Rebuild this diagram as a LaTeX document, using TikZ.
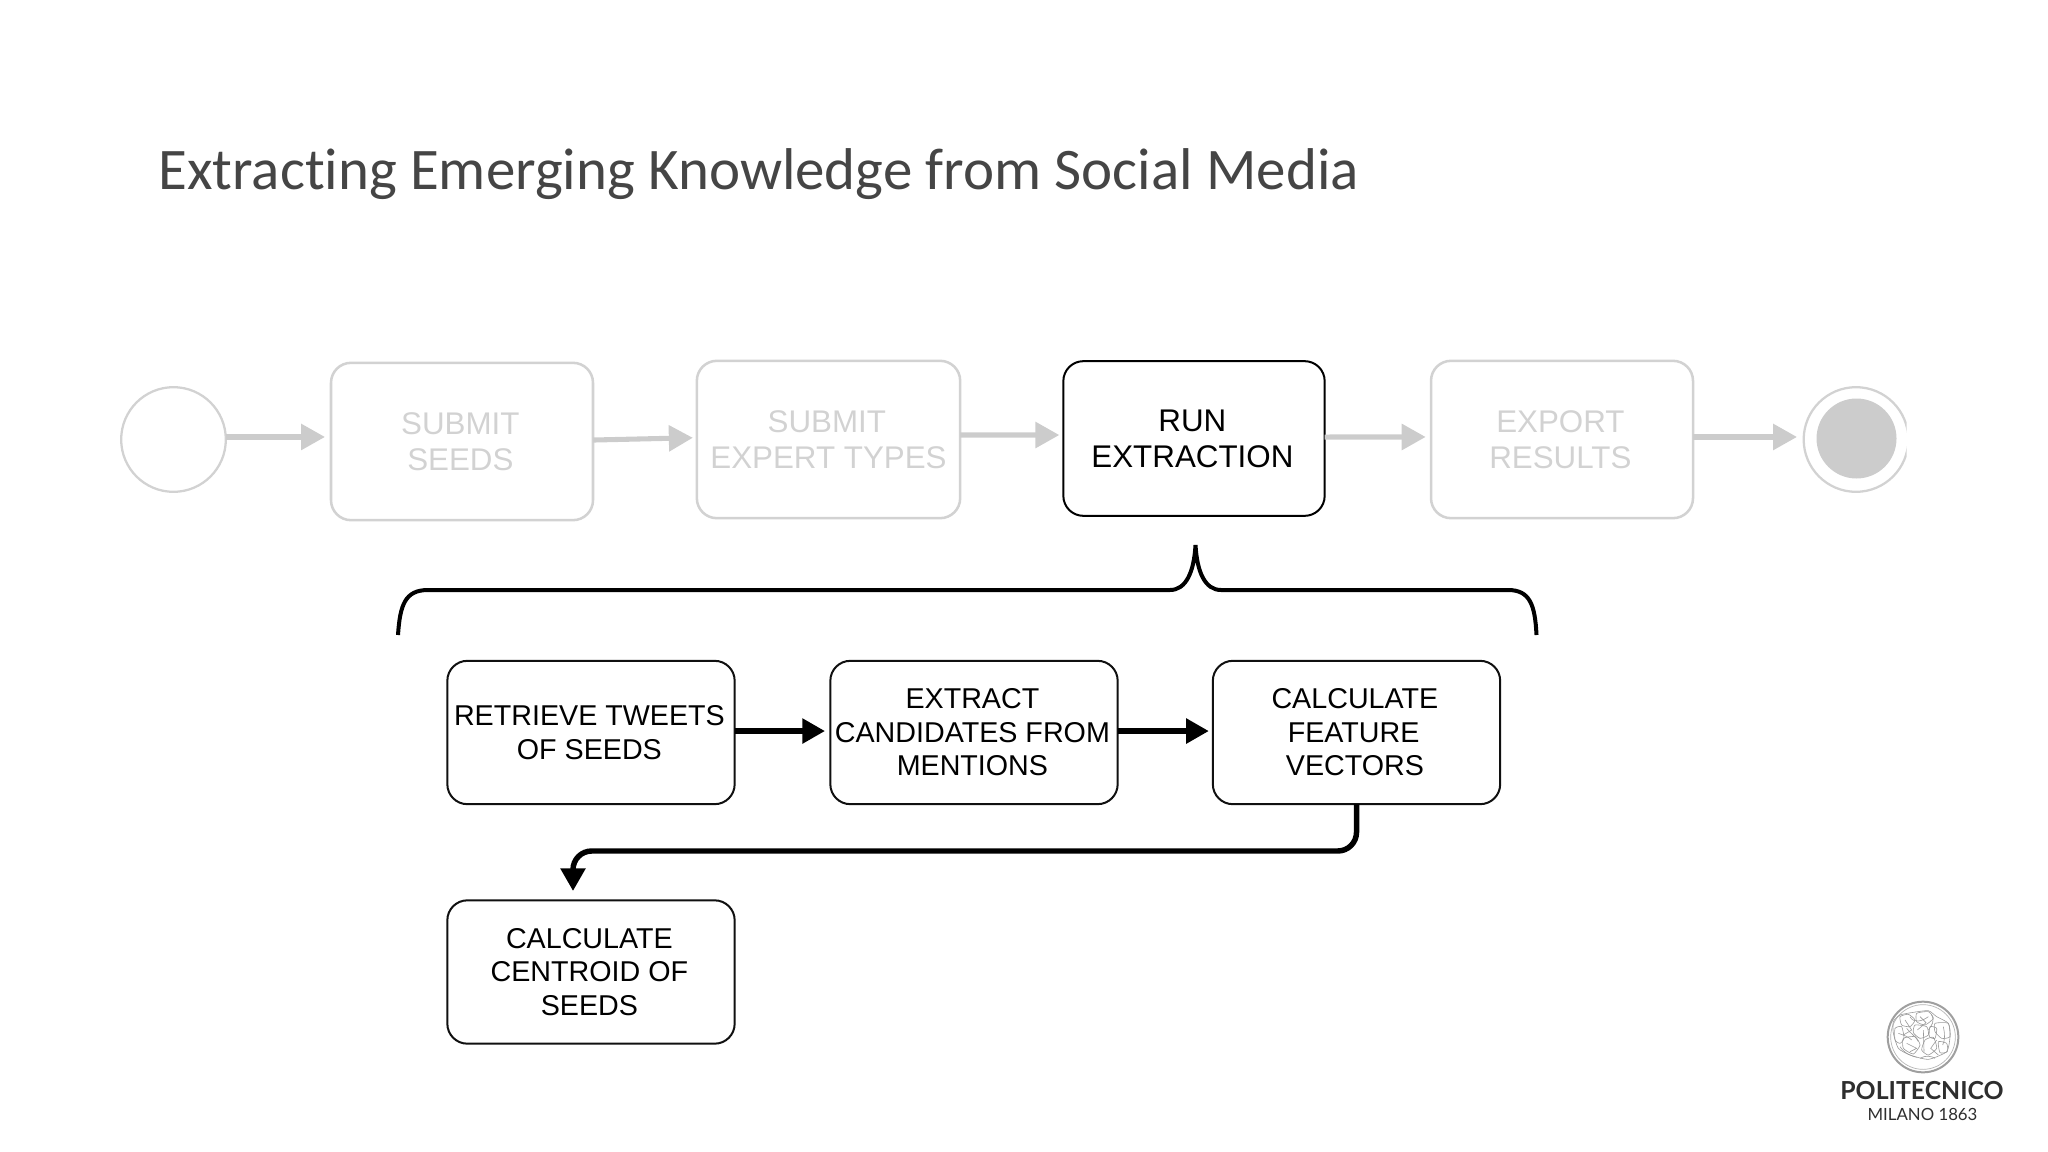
\documentclass[tikz,border=0pt]{standalone}
\usepackage{fontspec}
\setmainfont{Liberation Sans}
\newfontfamily\titlef[Ligatures=NoCommon]{Carlito}
\newfontfamily\logof{Lato}
\usetikzlibrary{arrows.meta,calc}
\definecolor{fade}{HTML}{D2D2D2}
\definecolor{fadearrow}{HTML}{CCCCCC}
\definecolor{titlec}{HTML}{454545}
\definecolor{logoc}{HTML}{2E2E2E}
\definecolor{inkc}{HTML}{101010}
\newcommand{\nudge}{\kern2.4pt}
\tikzset{
  box/.style={draw,rounded corners=15pt,outer sep=0pt,inner sep=0pt,align=center},
  top/.style={box,line width=1.9pt,font=\fontsize{23.5}{27}\selectfont},
  faded/.style={top,draw=fade,text=fade},
  active/.style={top,line width=1.5pt,draw=black,text=black},
  sub/.style={box,line width=1.5pt,draw=inkc,text=black,minimum width=215.5pt,minimum height=107.5pt,font=\fontsize{21.5}{25.1}\selectfont},
  flow/.style={line width=3.8pt,draw=fadearrow,-{Triangle[length=18pt,width=19pt]}},
  bflow/.style={line width=4.1pt,draw=black,-{Triangle[length=17pt,width=18pt]}},
  event/.style={circle,draw=fade,line width=1.7pt,minimum size=78.5pt,inner sep=0pt,outer sep=0pt},
  scrib/.style={draw=gray!80,line width=0.45pt}
}
\begin{document}
\begin{tikzpicture}[x=0.75pt,y=-0.75pt]
\useasboundingbox (0,0) rectangle (2048,1152);
\node[anchor=base west,inner sep=0pt,text=titlec,font=\titlef\fontsize{44.2}{50}\selectfont] (title) at (158,190) {Extracting Emerging Knowledge from Social Media};

\node[event] (start) at (173.5,439.5) {};
\node[faded,minimum width=196.5pt,minimum height=118pt] (b1) at (462,441.5) {SUBMIT\nudge\\SEEDS\nudge};
\node[faded,minimum width=197.5pt,minimum height=118pt] (b2) at (828.5,439.5) {SUBMIT\nudge\\EXPERT TYPES};
\node[active,minimum width=196pt,minimum height=116pt] (b3) at (1194,438.5) {RUN\nudge\\EXTRACTION\nudge};
\node[faded,minimum width=196.5pt,minimum height=118pt] (b4) at (1562,439.5) {EXPORT\nudge\\RESULTS\nudge};
\begin{scope}
\clip (1790,380) rectangle (1906.5,500);
\node[event] (stop) at (1856,439.5) {};
\end{scope}
\node[circle,fill=fadearrow,minimum size=60pt,inner sep=0pt] (stopin) at (1856.5,438.5) {};

\draw[flow] ([yshift=1.9pt]start.east) -- ([xshift=-4.5pt,yshift=3.4pt]b1.west);
\draw[flow] ([yshift=1.1pt]b1.east) -- ([xshift=-3pt,yshift=1.3pt]b2.west);
\draw[flow] ([yshift=3.4pt]b2.east) -- ([xshift=-3pt,yshift=2.6pt]b3.west);
\draw[flow] ([yshift=1.1pt]b3.east) -- ([xshift=-4pt,yshift=1.9pt]b4.west);
\draw[flow] ([yshift=1.9pt]b4.east) -- ([xshift=-5pt,yshift=1.9pt]stop.west);

\draw[line width=3pt,black,line cap=butt]
  (398,635) .. controls (400,605) and (405,590) .. (428,590)
  -- (1170,590) .. controls (1186,590) and (1194,572) .. (1195.5,545)
  .. controls (1197,572) and (1205,590) .. (1221,590)
  -- (1508,590) .. controls (1530,590) and (1535,605) .. (1536.5,635);

\node[sub] (r) at (591,732.5) {RETRIEVE TWEETS\nudge\\OF SEEDS\nudge};
\node[sub] (e) at (974,732.5) {EXTRACT\nudge\\CANDIDATES FROM\nudge\\MENTIONS\nudge};
\node[sub] (c) at (1356.5,732.5) {CALCULATE\nudge\\FEATURE\nudge\kern2pt\\VECTORS\nudge};
\node[sub] (d) at (591,972) {CALCULATE\nudge\\CENTROID OF\nudge\\SEEDS\nudge};

\draw[bflow] ([yshift=1.1pt]r.east) -- ([xshift=-4pt,yshift=1.1pt]e.west);
\draw[bflow] ([yshift=1.1pt]e.east) -- ([xshift=-3pt,yshift=1.1pt]c.west);
\coordinate (bend) at (1000,851);
\draw[bflow,rounded corners=14pt] (c.south) |- (bend) -| ([xshift=-13.5pt,yshift=7pt]d.north);

% logo
\node[circle,draw=gray!75,line width=1.5pt,minimum size=53pt,inner sep=0pt] (seal) at (1923,1037) {};
\node[circle,draw=gray!60,line width=0.5pt,minimum size=48.5pt,inner sep=0pt] (sealin) at (1923,1037) {};
\begin{scope}[shift={(1800,980)},x=0.25pt,y=-0.25pt]
\draw[scrib] plot[smooth cycle,tension=0.35] coordinates {(280,125)(300,105)(340,97)(385,92)(410,110)(445,130)(450,170)(440,215)(385,238)(330,225)(295,205)(280,160)};
\draw[scrib] plot[smooth cycle,tension=0.35] coordinates {(300,110)(325,103)(345,120)(330,140)(305,135)};
\draw[scrib] plot[smooth cycle,tension=0.35] coordinates {(350,100)(385,95)(400,115)(375,135)(350,125)};
\draw[scrib] plot[smooth cycle,tension=0.35] coordinates {(405,130)(445,130)(450,170)(425,175)(405,155)};
\draw[scrib] plot[smooth cycle,tension=0.35] coordinates {(285,145)(305,140)(312,175)(300,190)(285,180)};
\draw[scrib] plot[smooth cycle,tension=0.35] coordinates {(310,175)(345,170)(360,195)(340,222)(310,205)};
\draw[scrib] plot[smooth cycle,tension=0.35] coordinates {(345,135)(380,140)(385,165)(360,175)(340,158)};
\draw[scrib] plot[smooth cycle,tension=0.35] coordinates {(390,140)(410,145)(405,175)(388,170)};
\draw[scrib] plot[smooth cycle,tension=0.35] coordinates {(375,180)(400,172)(410,205)(385,225)(365,210)};
\draw[scrib] plot[smooth cycle,tension=0.35] coordinates {(415,185)(440,190)(442,215)(420,218)};
\draw[scrib] (320,145) .. controls (330,160) and (345,165) .. (355,185);
\draw[scrib] (360,235) .. controls (375,225) and (395,228) .. (405,235);
\draw[scrib] (300,200) .. controls (315,222) and (335,228) .. (350,232);
\draw[scrib] (330,110) .. controls (340,130) and (365,125) .. (385,110);
\draw[scrib] (395,105) .. controls (405,125) and (395,135) .. (385,150);
\draw[scrib] (430,140) .. controls (435,165) and (435,180) .. (428,195);
\draw[scrib] (370,150) -- (372,215);
\draw[scrib] (295,160) .. controls (310,165) and (325,170) .. (335,180);
\draw[scrib] (315,120) -- (335,150) -- (310,165);
\draw[scrib] (360,110) -- (378,128) -- (352,150);
\draw[scrib] (410,180) -- (392,205) -- (415,225);
\draw[scrib] (320,190) -- (350,205) -- (330,215);
\end{scope}
\node[inner sep=0pt,anchor=base,text=logoc,font=\logof\bfseries\fontsize{18.6}{20}\selectfont] (logo1) at (1922,1099) {POLITECNICO};
\node[inner sep=0pt,anchor=base,text=logoc,font=\logof\fontsize{12.6}{15}\selectfont] (logo2) at (1922.5,1120) {MILANO 1863};
\end{tikzpicture}
\end{document}
